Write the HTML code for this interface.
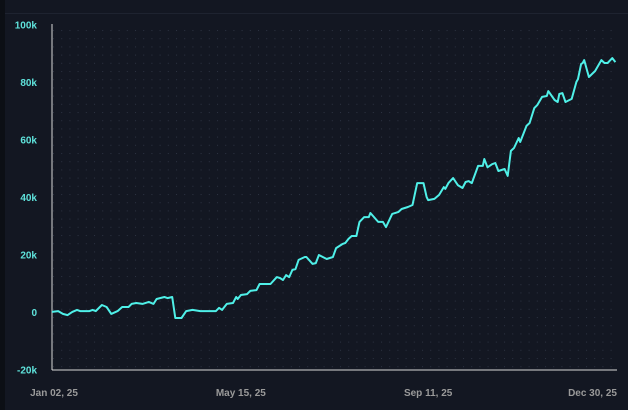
<!DOCTYPE html>
<html><head><meta charset="utf-8"><style>
html,body{margin:0;padding:0;background:#131722;}
body{width:628px;height:410px;overflow:hidden;position:relative;font-family:"Liberation Sans",sans-serif;}
</style></head><body>
<div style="position:absolute;left:0;top:0;width:5px;height:410px;background:#0c0f15"></div>
<div style="position:absolute;left:5px;top:13px;width:623px;height:1px;background:#1e2330"></div>
<svg id="chart" width="628" height="410" style="position:absolute;left:0;top:0">
<defs><pattern id="dots" x="53" y="30" width="8.2" height="8.2" patternUnits="userSpaceOnUse"><rect width="1" height="1" fill="#2c3242"/></pattern></defs>
<rect x="53" y="25" width="564" height="345" fill="url(#dots)"/>
<g id="yt"></g><g id="xt"></g>
<line x1="52" y1="24" x2="52" y2="370" stroke="#d8d8d8" stroke-width="1"/>
<line x1="52" y1="370" x2="617" y2="370" stroke="#d8d8d8" stroke-width="1"/>
<path id="line" fill="none" stroke="#4ff0e8" stroke-width="2" stroke-linejoin="round"/>
</svg>
<script>
const days=[0,4,7,10,13,16,18,24,26,28,32,35,38,42,45,49,51,54,58,62,65,67,72,74,77,79,83,86,90,95,105,107,109,112,116,118,119,121,125,127,131,133,140,144,146,148,150,152,154,156,158,162,163,167,169,171,176,180,182,186,188,190,192,195,197,200,203,204,209,212,214,218,222,224,228,231,234,238,240,241,245,248,251,252,254,257,260,263,265,267,269,273,276,277,279,282,284,286,290,292,294,296,299,300,304,306,309,311,314,317,318,322,324,325,327,329,333,336,337,339,340,341,344,348,352,354,356,359,361];
const values=[0.2,0.5,-0.5,-0.9,0.2,0.9,0.5,0.5,0.9,0.5,2.6,1.9,-0.5,0.5,1.9,1.9,3.0,3.3,3.0,3.7,3.0,4.7,5.4,5.0,5.4,-1.9,-1.9,0.5,0.9,0.5,0.5,1.6,0.9,3.0,3.3,5.4,4.7,6.1,6.4,7.5,7.8,9.9,9.9,12.3,12.0,11.3,13.0,12.3,14.8,15.1,18.3,19.3,19.3,16.9,17.2,20.0,18.6,19.3,22.4,23.8,24.2,25.6,26.6,26.6,31.5,33.2,33.2,34.6,31.5,31.5,29.7,34.3,35.0,36.0,36.7,37.4,45.0,45.0,40.2,39.1,39.5,40.9,43.6,43.0,45.0,46.8,44.3,43.3,45.4,45.7,45.0,51.0,51.0,53.4,50.5,51.6,52.0,49.2,49.9,47.5,56.2,57.2,60.7,59.3,64.9,65.9,71.1,72.2,75.0,75.3,77.0,73.9,73.2,76.0,76.3,73.2,74.3,80.2,81.2,86.4,86.8,87.8,81.9,84.0,87.8,86.8,86.8,88.5,87.1];
const yTicks=[100,80,60,40,20,0,-20];
const yTickLabels=["100k","80k","60k","40k","20k","0","-20k"];
const xTickDays=[0,121,241,362];
const xTickLabels=["Jan 02, 25","May 15, 25","Sep 11, 25","Dec 30, 25"];
const NS="http://www.w3.org/2000/svg";
function xs(d){return 52+d*(565/362);}
function ys(v){return 312.5-v*(57.5/20);}
let dstr="";
for(let i=0;i<days.length;i++){dstr+=(i?"L":"M")+xs(days[i]).toFixed(1)+","+ys(values[i]).toFixed(1);}
document.getElementById("line").setAttribute("d",dstr);
const yt=document.getElementById("yt");
yTicks.forEach((v,i)=>{const t=document.createElementNS(NS,"text");


t.setAttribute("x",37);t.setAttribute("y",ys(v)+3.5);t.setAttribute("text-anchor","end");
t.setAttribute("fill","#5fe3dc");t.setAttribute("font-size","10");t.setAttribute("font-weight","bold");
t.textContent=yTickLabels[i];yt.appendChild(t);});
const xt=document.getElementById("xt");
xTickDays.forEach((d,i)=>{const t=document.createElementNS(NS,"text");


let anchor="middle",x=xs(d);
if(i===0){x=xs(d)+2;} if(i===xTickDays.length-1){anchor="end";x=xs(d);}
t.setAttribute("x",x);t.setAttribute("y",396);t.setAttribute("text-anchor",anchor);
t.setAttribute("fill","#9a9a9a");t.setAttribute("font-size","10");t.setAttribute("font-weight","bold");
t.textContent=xTickLabels[i];xt.appendChild(t);});
</script>
</body></html>
